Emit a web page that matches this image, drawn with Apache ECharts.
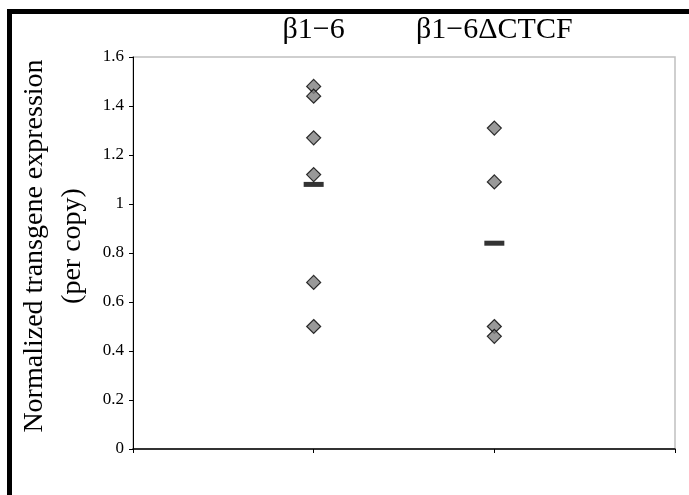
<!DOCTYPE html>
<html><head><meta charset="utf-8">
<script src="https://cdn.jsdelivr.net/npm/echarts@6/dist/echarts.min.js"></script>
<style>html,body{margin:0;padding:0;background:#fff}#c{width:689px;height:495px}</style>
</head><body><div id="c"></div>
<script>
const categories = ["β1−6", "β1−6ΔCTCF"];
const beta16 = [1.48, 1.44, 1.27, 1.12, 0.68, 0.50];
const beta16dCTCF = [1.31, 1.09, 0.50, 0.46];
const means = [1.08, 0.84];
const yTicks = [0, 0.2, 0.4, 0.6, 0.8, 1, 1.2, 1.4, 1.6];
const yName = "Normalized transgene expression\n(per copy)";

const serif = "Liberation Serif";
const chart = echarts.init(document.getElementById('c'), null, {renderer: 'canvas'});
const groups = [beta16, beta16dCTCF];
const pts = [];
groups.forEach((g, i) => g.forEach(v => pts.push([i + 1, v])));
chart.setOption({
  animation: false,
  backgroundColor: '#fff',
  grid: {left: 133, right: 14, top: 57, bottom: 46, show: true, borderColor: '#c0c0c0', borderWidth: 1.5, backgroundColor: 'transparent'},
  xAxis: [{
    type: 'value', min: 0, max: 3, interval: 1, position: 'bottom',
    axisLine: {show: true, onZero: false, lineStyle: {color: '#000', width: 1.5}},
    axisTick: {show: true, length: 4, lineStyle: {color: '#000'}},
    axisLabel: {show: false}, splitLine: {show: false}
  }, {
    type: 'value', min: 0, max: 3, interval: 1, position: 'top',
    axisLine: {show: false}, axisTick: {show: false}, splitLine: {show: false},
    axisLabel: {show: true, margin: 12, fontFamily: serif, fontSize: 30, color: '#000',
      formatter: v => (v >= 1 && v <= categories.length) ? categories[v - 1] : ''}
  }],
  yAxis: {
    type: 'value', min: 0, max: 1.6, interval: 0.2,
    name: yName, nameLocation: 'middle', nameGap: 36,
    nameTextStyle: {fontFamily: serif, fontSize: 28, color: '#000', lineHeight: 38, align: 'center', padding: [0, 0, 0, 14]},
    axisLine: {show: true, lineStyle: {color: '#000', width: 1}},
    axisTick: {show: true, length: 4, lineStyle: {color: '#000'}},
    splitLine: {show: false},
    axisLabel: {fontFamily: serif, fontSize: 17, color: '#000', margin: 9,
      formatter: v => { const t = yTicks.find(x => Math.abs(x - v) < 1e-6); return t === undefined ? '' : String(t); }}
  },
  series: [{
    type: 'scatter', data: pts, symbol: 'diamond', symbolSize: 14,
    itemStyle: {color: '#808080', borderColor: '#000', borderWidth: 1.2}, z: 3
  }, {
    type: 'scatter', data: means.map((m, i) => [i + 1, m]), symbol: 'rect', symbolSize: [20, 5],
    itemStyle: {color: '#000'}, z: 4
  }],
  graphic: [
    {type: 'rect', shape: {x: 7, y: 9, width: 682, height: 5}, style: {fill: '#000'}, silent: true},
    {type: 'rect', shape: {x: 7, y: 9, width: 5, height: 486}, style: {fill: '#000'}, silent: true}
  ]
});
</script></body></html>
